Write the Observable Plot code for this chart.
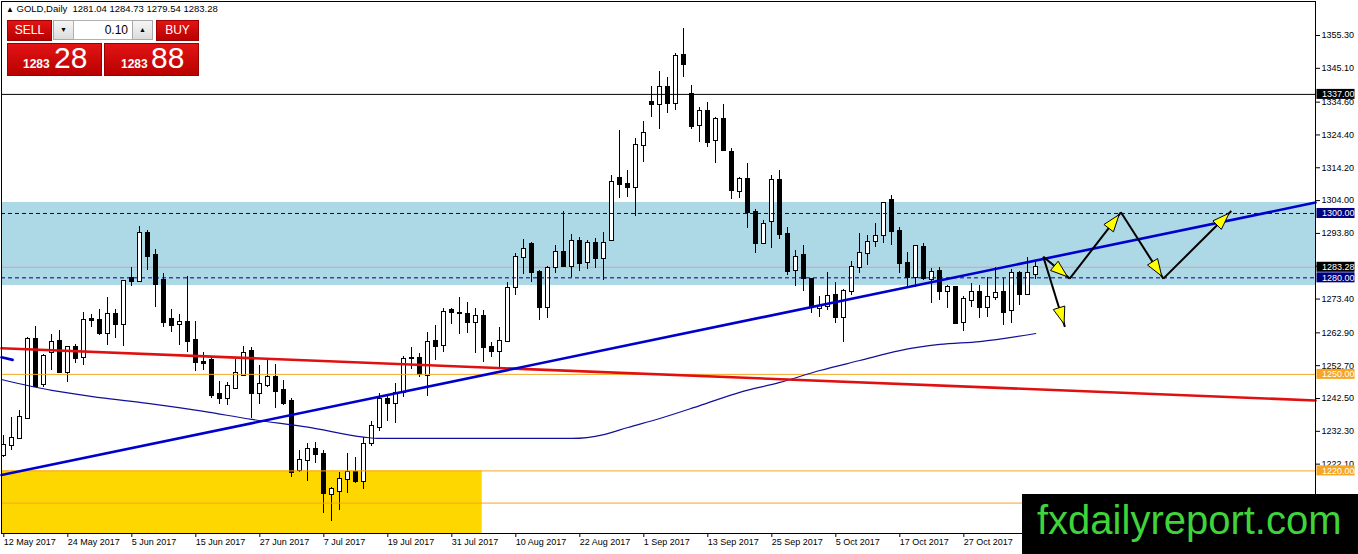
<!DOCTYPE html>
<html><head><meta charset="utf-8">
<script src="https://cdn.jsdelivr.net/npm/d3@7"></script>
<script src="https://cdn.jsdelivr.net/npm/@observablehq/plot@0.6"></script>
<style>
body{margin:0;background:#fff;}
#wrap{position:relative;width:1358px;height:554px;overflow:hidden;font-family:"Liberation Sans",Arial,sans-serif;}
#chart{position:absolute;left:0;top:0;}
.abs{position:absolute;white-space:nowrap;}
.hdr{left:6px;top:3px;font-size:9.5px;line-height:12px;color:#000;}
.hdr .tri{font-size:8px;}
.red{background:linear-gradient(#e31414,#b80000);border:1px solid #9a0000;box-sizing:border-box;}
.btn{color:#fff;font-size:12px;text-align:center;line-height:19px;}
.qty{background:#fff;border:1px solid #b0b0b0;box-sizing:border-box;}
.spin{background:linear-gradient(#f6f6f6,#dcdcdc);border:1px solid #a8a8a8;box-sizing:border-box;font-size:7px;text-align:center;line-height:18px;color:#000;}
.small{color:#fff;font-size:12px;font-weight:bold;line-height:12px;}
.big{color:#fff;font-size:30px;line-height:30px;}
</style></head>
<body><div id="wrap"><div id="chart"></div></div>
<script>
// ---- data ----
const opens  = [1224.8,1227.9,1230.2,1236.4,1260.8,1246.8,1256.7,1260.1,1250.7,1258.3,1255.1,1267.2,1266.7,1262.6,1268.5,1265.4,1279.9,1278.9,1293.7,1286.9,
1279.2,1266.9,1265.4,1266.1,1260.5,1253.7,1254.3,1243.8,1242.6,1245.7,1249.6,1257.1,1244.2,1246.5,1249.1,1245.0,1241.6,1220.1,1223.2,1226.6,
1225.0,1212.6,1213.7,1217.2,1219.6,1216.8,1228.4,1233.6,1242.2,1240.8,1244.5,1254.9,1254.8,1249.6,1260.2,1259.0,1269.8,1269.0,1268.6,1266.2,
1268.1,1258.4,1257.2,1260.3,1276.9,1286.2,1290.3,1281.6,1270.9,1283.1,1287.8,1283.5,1291.3,1284.9,1290.8,1285.9,1291.6,1310.8,1309.0,1308.2,
1321.1,1334.6,1333.8,1339.2,1334.1,1349.1,1337.0,1327.2,1331.8,1322.7,1329.2,1318.9,1306.8,1310.5,1300.4,1290.6,1297.6,1310.2,1293.5,1282.3,
1286.9,1279.4,1270.4,1271.2,1274.5,1267.6,1275.8,1283.3,1287.5,1291.3,1293.2,1304.0,1294.5,1284.4,1280.2,1289.3,1279.4,1282.0,1275.8,1276.9,
1266.2,1272.9,1275.5,1270.7,1274.0,1275.5,1269.8,1281.2,1274.8,1281.04];
const highs  = [1231.0,1236.7,1238.8,1261.6,1264.9,1256.2,1262.4,1263.6,1258.6,1259.3,1269.3,1268.6,1270.1,1273.8,1270.1,1279.2,1283.1,1295.9,1294.7,1288.7,
1281.4,1270.1,1268.6,1280.4,1266.4,1256.7,1255.3,1247.8,1247.6,1254.6,1258.6,1258.4,1252.8,1254.8,1253.1,1248.1,1242.4,1226.3,1228.6,1228.7,
1226.3,1214.9,1219.6,1225.3,1224.1,1230.5,1235.4,1244.1,1243.1,1247.1,1255.5,1258.4,1256.4,1263.1,1265.2,1270.6,1270.6,1273.8,1272.4,1270.4,
1269.8,1260.0,1264.7,1278.5,1287.5,1291.9,1291.1,1282.3,1283.6,1290.1,1300.6,1293.4,1292.6,1291.6,1292.1,1294.2,1311.8,1325.8,1313.3,1323.2,
1328.6,1339.5,1344.1,1342.2,1349.8,1357.4,1339.8,1332.8,1334.6,1329.9,1333.8,1320.2,1311.3,1315.4,1301.1,1297.8,1311.8,1313.3,1295.5,1288.5,
1290.0,1279.7,1274.2,1281.6,1278.5,1276.3,1285.1,1293.7,1293.2,1297.0,1303.5,1305.6,1295.7,1287.9,1290.0,1290.8,1282.8,1283.1,1277.6,1277.1,
1274.2,1278.1,1277.6,1280.0,1283.3,1279.9,1282.6,1282.1,1286.4,1284.73];
const lows   = [1224.2,1226.3,1230.0,1236.2,1246.0,1246.0,1251.2,1250.4,1247.6,1253.5,1252.8,1264.7,1262.1,1259.0,1261.1,1258.6,1277.3,1278.6,1282.3,1270.9,
1264.5,1263.1,1259.0,1256.9,1250.9,1251.2,1242.6,1240.6,1240.3,1245.2,1249.3,1236.4,1240.6,1246.0,1239.3,1240.3,1218.0,1219.6,1216.8,1222.2,
1206.9,1204.4,1207.7,1213.1,1216.2,1214.1,1227.6,1232.3,1235.5,1234.8,1242.9,1251.4,1248.9,1243.1,1254.3,1256.9,1265.4,1262.3,1262.6,1256.6,
1253.8,1255.3,1251.7,1260.0,1274.5,1280.9,1278.5,1266.7,1267.5,1281.2,1283.3,1280.2,1282.1,1282.5,1282.8,1279.2,1291.4,1304.7,1304.9,1299.1,
1315.9,1329.9,1326.0,1331.2,1332.0,1342.3,1326.0,1322.1,1320.6,1315.4,1319.3,1304.3,1304.8,1295.4,1287.7,1290.4,1289.0,1291.8,1280.7,1277.3,
1275.7,1269.0,1267.8,1269.8,1265.9,1260.0,1274.5,1281.4,1283.8,1289.3,1290.6,1290.0,1281.2,1277.1,1277.1,1279.2,1271.9,1272.9,1270.4,1265.7,
1263.4,1270.9,1267.3,1267.6,1272.9,1265.2,1265.7,1271.4,1274.5,1279.54];
const closes = [1227.9,1230.0,1236.5,1260.8,1246.2,1255.5,1260.0,1250.6,1258.3,1255.0,1266.7,1266.7,1262.6,1268.5,1265.4,1278.9,1278.9,1293.7,1286.7,1277.8,
1266.2,1265.3,1266.1,1260.3,1253.6,1253.5,1243.4,1242.6,1246.2,1250.2,1256.4,1244.2,1246.9,1249.1,1244.8,1241.0,1219.6,1223.2,1226.6,1225.0,
1212.9,1214.1,1217.2,1219.6,1216.8,1228.2,1233.8,1242.1,1240.8,1244.0,1254.5,1254.8,1249.9,1260.0,1258.6,1269.1,1269.1,1268.8,1266.2,1268.1,
1258.4,1257.2,1260.3,1276.8,1286.2,1288.8,1281.8,1270.9,1282.8,1287.8,1283.5,1291.4,1284.5,1290.8,1285.9,1290.8,1309.7,1308.9,1308.2,1321.1,
1324.8,1333.8,1339.2,1334.1,1348.8,1346.2,1327.0,1331.8,1322.1,1329.2,1319.6,1307.1,1310.5,1300.4,1290.6,1296.5,1310.2,1293.4,1282.1,1286.4,
1279.7,1270.9,1271.2,1274.2,1267.6,1275.8,1283.3,1287.5,1291.1,1292.9,1303.0,1294.5,1284.5,1280.2,1289.7,1279.7,1281.8,1275.8,1276.9,1265.9,
1273.2,1275.5,1270.7,1274.0,1275.2,1269.3,1281.2,1274.8,1281.2,1283.28];

const dateLabels = ["12 May 2017","24 May 2017","5 Jun 2017","15 Jun 2017","27 Jun 2017","7 Jul 2017","19 Jul 2017","31 Jul 2017",
"10 Aug 2017","22 Aug 2017","1 Sep 2017","13 Sep 2017","25 Sep 2017","5 Oct 2017","17 Oct 2017","27 Oct 2017"];
const barsPerLabel = 8;
const yTicks = [1355.3,1345.1,1334.6,1324.4,1314.2,1304.0,1293.8,1283.6,1273.4,1262.9,1252.7,1242.5,1232.3,1222.1,1211.9];

const zoneTop = 1303.4, zoneBottom = 1277.6;        // light blue band
const yellowEndBar = 59.8, yellowTop = 1220;          // yellow box
const solidLevels = [1337];
const dashedLevels = [1300, 1280];
const orangeLevels = [1250, 1220, 1210];
const bidLevel = 1283.28, askLevel = 1283.88;

const trendBars = [-0.29, 163.96], trendPrices = [1218.7, 1303.4];   // blue trend line
const redBars = [-0.29, 163.96], redPrices = [1258.1, 1241.9];       // red line
const stubBars = [-0.29, 1.1], stubPrices = [1255.3, 1254.5];        // blue stub at left edge
const maBars = [-0.29,6,12,18,25,31,38,45,47,71,75,78,82,87,92,97,102,107,112,117,122,129];
const maValues = [1248.4,1245.0,1242.8,1241.0,1238.5,1236.0,1233.6,1230.5,1230.1,1230.1,1231.3,1233.5,1236.3,1240.3,1244.4,1247.5,1251.2,1254.3,1257.4,1259.3,1260.2,1262.7];

const arrowFromBar   = [130.0, 133.3, 139.7, 145.0, 130.0];
const arrowFromPrice = [1286.4, 1279.6, 1300.2, 1279.6, 1286.4];
const arrowToBar     = [133.3, 139.7, 145.0, 153.5, 132.7];
const arrowToPrice   = [1279.6, 1300.2, 1279.6, 1300.6, 1264.6];

const boxPrices = [1337, 1300, 1283.28, 1280, 1250, 1220];
const boxColors = ["black", "#000080", "black", "#000080", "#f5a623", "#f5a623"];

// ---- build ----
const X0 = -0.29, X1 = 163.96;
const bars = opens.map((o, i) => ({i, o, h: highs[i], l: lows[i], c: closes[i], up: closes[i] >= o}));
const tickBars = dateLabels.map((d, k) => k * barsPerLabel);
const toPts = (xs, ys) => xs.map((x, k) => ({x, y: ys[k]}));
const boxes = boxPrices.map((p, k) => ({p, fill: boxColors[k], t: p.toFixed(2)}));

function arrowsMark(index, scales) {
  const g = d3.create("svg:g");
  for (let k = 0; k < arrowFromBar.length; k++) {
    const x1 = scales.x(arrowFromBar[k]), y1 = scales.y(arrowFromPrice[k]);
    const x2 = scales.x(arrowToBar[k]), y2 = scales.y(arrowToPrice[k]);
    const dx = x2 - x1, dy = y2 - y1, len = Math.hypot(dx, dy), ux = dx / len, uy = dy / len;
    g.append("line").attr("x1", x1).attr("y1", y1).attr("x2", x2).attr("y2", y2)
      .attr("stroke", "black").attr("stroke-width", 2);
    const tx = x2 - ux * 3, ty = y2 - uy * 3, L = 17, W = 6;
    const bx = tx - ux * L, by = ty - uy * L;
    g.append("path").attr("d", `M${tx},${ty}L${bx - uy * W},${by + ux * W}L${bx + uy * W},${by - ux * W}Z`)
      .attr("fill", "#ffff00").attr("stroke", "black").attr("stroke-width", 1);
  }
  return g.node();
}

const chart = Plot.plot({
  width: 1358, height: 554,
  marginLeft: 1, marginRight: 43, marginTop: 1, marginBottom: 21,
  x: {domain: [X0, X1]},
  y: {domain: [1200.55, 1365.87]},
  style: {fontFamily: "'Liberation Sans', Arial, sans-serif", fontSize: "9px", background: "white", color: "black"},
  marks: [
    Plot.rect([{a: zoneBottom, b: zoneTop}], {x1: () => X0, x2: () => X1, y1: "a", y2: "b", fill: "#add8e6"}),
    Plot.rect([{a: 1200.55, b: yellowTop}], {x1: () => X0, x2: () => yellowEndBar, y1: "a", y2: "b", fill: "#ffd700"}),
    Plot.ruleY([bidLevel], {stroke: "#d0a4ac", strokeWidth: 1}),
    Plot.ruleX(bars, {x: "i", y1: "l", y2: "h", stroke: "black", strokeWidth: 1, shapeRendering: "crispEdges"}),
    Plot.rect(bars, {x1: d => d.i - 0.28, x2: d => d.i + 0.28, y1: d => Math.min(d.o, d.c), y2: d => Math.max(d.o, d.c),
      insetTop: -0.5, insetBottom: -0.5, fill: d => d.up ? "white" : "black", stroke: "black", strokeWidth: 1, shapeRendering: "crispEdges"}),
    Plot.ruleY(solidLevels, {stroke: "black", strokeWidth: 1}),
    Plot.ruleY(dashedLevels, {stroke: "#000080", strokeWidth: 1, strokeDasharray: "4,3"}),
    Plot.ruleY(orangeLevels, {stroke: "#f5a623", strokeWidth: 1}),
    Plot.line(toPts(maBars, maValues), {x: "x", y: "y", stroke: "#10109a", strokeWidth: 1.2, curve: "monotone-x"}),
    Plot.line(toPts(redBars, redPrices), {x: "x", y: "y", stroke: "#e01010", strokeWidth: 2.6}),
    Plot.line(toPts(trendBars, trendPrices), {x: "x", y: "y", stroke: "#0000cd", strokeWidth: 2.6}),
    Plot.line(toPts(stubBars, stubPrices), {x: "x", y: "y", stroke: "#0000cd", strokeWidth: 2.6}),
    arrowsMark,
    Plot.frame({stroke: "black"}),
    Plot.axisX(tickBars, {anchor: "bottom", tickSize: 4, tickPadding: 1, textAnchor: "start",
      tickFormat: d => dateLabels[d / barsPerLabel], fontSize: 9, label: null}),
    Plot.axisY(yTicks, {anchor: "right", tickSize: 4, tickPadding: 2, tickFormat: d => d.toFixed(2), fontSize: 9, label: null}),
    Plot.rect(boxes, {x1: () => X1, x2: () => X1, y1: "p", y2: "p", insetLeft: 1.5, insetRight: -39.5, insetTop: -5, insetBottom: -5, fill: "fill"}),
    Plot.text(boxes, {x: () => X1, y: "p", text: "t", dx: 6.5, textAnchor: "start", fill: "white", fontSize: 9})
  ]
});
const wrap = document.getElementById("wrap");
document.getElementById("chart").appendChild(chart);

// ---- overlays (header, one-click panel, logo) ----
function add(cls, html, css) {
  const d = document.createElement("div");
  d.className = "abs " + cls; d.innerHTML = html;
  Object.assign(d.style, css || {});
  wrap.appendChild(d); return d;
}
const last = opens.length - 1;
add("hdr", `<span class="tri">▲</span> GOLD,Daily&nbsp; ${opens[last].toFixed(2)} ${highs[last].toFixed(2)} ${lows[last].toFixed(2)} ${closes[last].toFixed(2)}`);
const bidStr = bidLevel.toFixed(2), askStr = askLevel.toFixed(2);
add("", "", {left: "5px", top: "18px", width: "196px", height: "60px", background: "#fff"});
add("red btn", "SELL", {left: "7px", top: "20px", width: "45px", height: "21px"});
add("red btn", "BUY", {left: "156px", top: "20px", width: "43px", height: "21px"});
add("spin", "▼", {left: "53px", top: "20px", width: "21px", height: "20px"});
add("qty", "", {left: "73px", top: "20px", width: "60px", height: "20px"});
add("", "0.10", {left: "73px", top: "20px", width: "55px", height: "20px", textAlign: "right", fontSize: "12px", lineHeight: "20px", color: "#000"});
add("spin", "▲", {left: "132px", top: "20px", width: "21px", height: "20px"});
add("red", "", {left: "7px", top: "43px", width: "95px", height: "33px"});
add("red", "", {left: "104px", top: "43px", width: "95px", height: "33px"});
add("small", bidStr.slice(0, 4), {left: "23px", top: "58px"});
add("big", bidStr.slice(5, 7), {left: "54px", top: "43px"});
add("small", askStr.slice(0, 4), {left: "121px", top: "58px"});
add("big", askStr.slice(5, 7), {left: "151px", top: "43px"});
add("", "", {left: "1022px", top: "494px", width: "336px", height: "60px", background: "#000"});
add("", "fxdailyreport.com", {left: "1037px", top: "500px", fontSize: "40px", lineHeight: "40px", color: "#3fd43a"});
</script>
</body></html>
